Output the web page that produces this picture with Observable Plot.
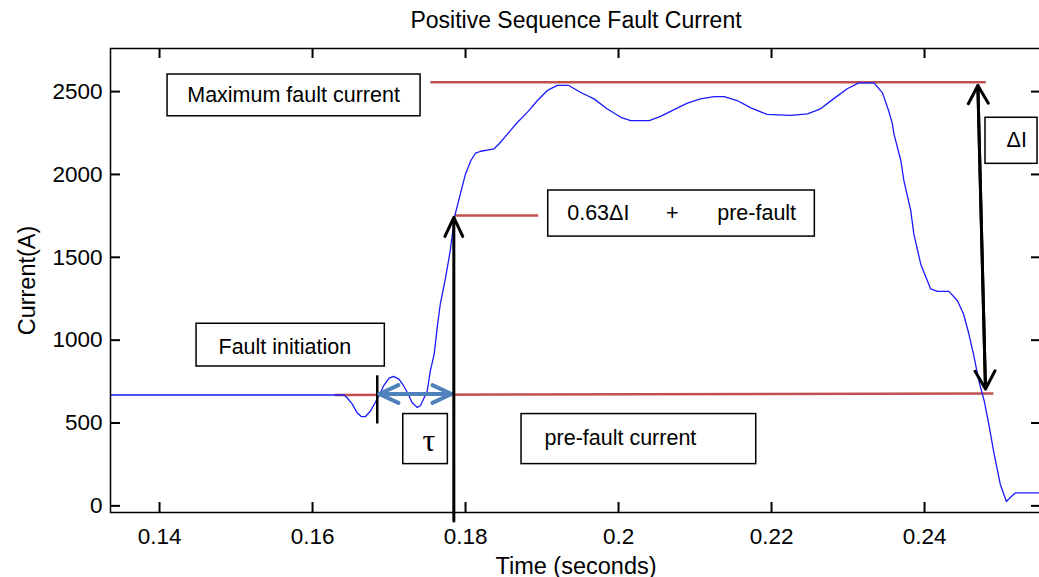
<!DOCTYPE html>
<html>
<head>
<meta charset="utf-8">
<script src="https://cdn.jsdelivr.net/npm/d3@7"></script>
<script src="https://cdn.jsdelivr.net/npm/@observablehq/plot@0.6"></script>
<style>
  html, body { margin: 0; padding: 0; overflow: hidden; background: #fff; }
  svg { display: block; max-width: none !important; }
</style>
</head>
<body>
<div id="chart"></div>
<script>
// ---- Data ----
const time = [0.1336, 0.1641, 0.1645, 0.1652, 0.1658, 0.1664, 0.1669, 0.1676, 0.1682, 0.1688, 0.1693,
  0.1700, 0.1706, 0.1713, 0.1719, 0.1725, 0.1730, 0.1737, 0.1741, 0.1745, 0.1750, 0.1754, 0.1759,
  0.1763, 0.1767, 0.1774, 0.1780, 0.1786, 0.1791, 0.1796, 0.1800, 0.1807, 0.1813, 0.1820, 0.1830,
  0.1837, 0.1844, 0.1855, 0.1868, 0.1881, 0.1894, 0.1907, 0.1920, 0.1935, 0.1950, 0.1968, 0.1985,
  0.2003, 0.2016, 0.2040, 0.2055, 0.2072, 0.2090, 0.2107, 0.2125, 0.2138, 0.2155, 0.2173, 0.2194,
  0.2225, 0.2247, 0.2264, 0.2281, 0.2299, 0.2314, 0.2334, 0.2345, 0.2353, 0.2358, 0.2360, 0.2369,
  0.2373, 0.2382, 0.2386, 0.2395, 0.2408, 0.2417, 0.2432, 0.2443, 0.2451, 0.2458, 0.2464, 0.2471,
  0.2478, 0.2484, 0.2491, 0.2499, 0.2507, 0.2512, 0.2519, 0.2550];
const current = [669, 669, 654, 614, 564, 538, 538, 574, 624, 675, 725,
  771, 781, 765, 725, 675, 624, 594, 604, 644, 695, 815, 916,
  1077, 1218, 1379, 1540, 1752, 1842, 1933, 2003, 2084, 2128, 2140, 2148,
  2154, 2185, 2245, 2315, 2376, 2446, 2507, 2537, 2537, 2496, 2456, 2396,
  2345, 2325, 2325, 2350, 2390, 2430, 2456, 2470, 2470, 2446, 2402, 2362,
  2356, 2366, 2396, 2456, 2517, 2553, 2553, 2492, 2386, 2305, 2245, 2084,
  1963, 1782, 1641, 1460, 1309, 1294, 1294, 1238, 1158, 1037, 916, 755,
  634, 493, 312, 131, 26, 50, 79, 79];

const xTicks = [0.14, 0.16, 0.18, 0.2, 0.22, 0.24];
const xTickLabels = ["0.14", "0.16", "0.18", "0.2", "0.22", "0.24"];
const yTicks = [0, 500, 1000, 1500, 2000, 2500];
const yTickLabels = ["0", "500", "1000", "1500", "2000", "2500"];

const titleText = "Positive Sequence Fault Current";
const xLabel = "Time (seconds)";
const yLabel = "Current(A)";

// annotation geometry (data units)
const redX1 = [0.1754, 0.1786, 0.1629];
const redY1 = [2557, 1752, 669];
const redX2 = [0.2480, 0.1895, 0.2490];
const redY2 = [2557, 1752, 678];

const boxX1 = [0.14105, 0.19081, 0.24797, 0.14484, 0.17186, 0.18732];
const boxX2 = [0.17412, 0.22566, 0.25477, 0.16945, 0.17769, 0.21800];
const boxY1 = [2351, 1625, 2064, 841, 252, 252];
const boxY2 = [2603, 1903, 2342, 1099, 554, 554];

const labelText = ["Maximum fault current", "0.63\u0394I", "+", "pre-fault", "\u0394I", "Fault initiation", "pre-fault current"];
const labelX = [0.14362, 0.19329, 0.20702, 0.2129, 0.25072, 0.14771, 0.19033];
const labelY = [2476, 1764, 1764, 1764, 2205, 960, 411];
const labelAnchor = ["start", "start", "middle", "start", "start", "start", "start"];

const tauText = ["\u03C4"];
const tauX = [0.17520];
const tauY = [393];

// arrows
const upArrowX = [0.17847], upArrowY1 = [-91], upArrowY2 = [1741];
const deltaTopX = 0.24697, deltaTopY = 2537, deltaBotX = 0.24797, deltaBotY = 705;
const tauLeftX = 0.16873, tauRightX = 0.17817, tauArrowY = 675;
const initX = [0.16846], initY1 = [494], initY2 = [785];

// ---- build tables ----
const curve = time.map((t, i) => ({t, I: current[i]}));
const redLines = redX1.map((x, i) => ({x1: x, y1: redY1[i], x2: redX2[i], y2: redY2[i]}));
const boxes = boxX1.map((x, i) => ({x1: x, x2: boxX2[i], y1: boxY1[i], y2: boxY2[i]}));
const labels = labelText.map((s, i) => ({s, x: labelX[i], y: labelY[i], a: labelAnchor[i]}));
const blueArrows = [
  {x1: tauRightX, y1: tauArrowY, x2: tauLeftX, y2: tauArrowY},
  {x1: tauLeftX, y1: tauArrowY, x2: tauRightX, y2: tauArrowY}
];
const deltaArrows = [
  {x1: deltaBotX, y1: deltaBotY, x2: deltaTopX, y2: deltaTopY},
  {x1: deltaTopX, y1: deltaTopY, x2: deltaBotX, y2: deltaBotY}
];
const upArrow = upArrowX.map((x, i) => ({x1: x, y1: upArrowY1[i], x2: x, y2: upArrowY2[i]}));
const initLine = initX.map((x, i) => ({x, y1: initY1[i], y2: initY2[i]}));

const font = "'Liberation Sans', Arial, Helvetica, sans-serif";

// layout
const W = 1042, H = 577, ML = 110, MR = 1, MT = 48, MB = 65, TICK = 10;
const frameW = W - ML - MR, frameH = H - MT - MB;

const chart = Plot.plot({
  width: W,
  height: H,
  marginLeft: ML,
  marginRight: MR,
  marginTop: MT,
  marginBottom: MB,
  style: {fontFamily: font, fontSize: "22px", color: "#000", background: "#fff", overflow: "visible", maxWidth: "none"},
  x: {domain: [0.13359, 0.25529], label: null},
  y: {domain: [-40, 2760], label: null},
  marks: [
    // red reference lines
    Plot.link(redLines, {x1: "x1", y1: "y1", x2: "x2", y2: "y2", stroke: "#c0504d", strokeWidth: 2.5}),
    // current trace
    Plot.line(curve, {x: "t", y: "I", stroke: "#1a1aff", strokeWidth: 1.3}),
    // fault initiation marker
    Plot.ruleX(initLine, {x: "x", y1: "y1", y2: "y2", stroke: "#000", strokeWidth: 2.5}),
    // tau double arrow
    Plot.arrow(blueArrows, {x1: "x1", y1: "y1", x2: "x2", y2: "y2", stroke: "#4f81bd", strokeWidth: 4, headAngle: 50, headLength: 7.9}),
    // up arrow to 0.63 point
    Plot.arrow(upArrow, {x1: "x1", y1: "y1", x2: "x2", y2: "y2", stroke: "#000", strokeWidth: 3, headAngle: 50, headLength: 10.5}),
    // delta I double arrow
    Plot.arrow(deltaArrows, {x1: "x1", y1: "y1", x2: "x2", y2: "y2", stroke: "#000", strokeWidth: 3, headAngle: 58, headLength: 10.3}),
    // text boxes
    Plot.rect(boxes, {x1: "x1", x2: "x2", y1: "y1", y2: "y2", fill: "#fff", stroke: "#000", strokeWidth: 1.5}),
    Plot.text(labels, {x: "x", y: "y", text: "s", textAnchor: "start", lineAnchor: "middle", fontSize: 21.5, fill: "#000",
      filter: d => d.a === "start"}),
    Plot.text(labels, {x: "x", y: "y", text: "s", textAnchor: "middle", lineAnchor: "middle", fontSize: 21.5, fill: "#000",
      filter: d => d.a === "middle"}),
    Plot.text(tauText, {x: () => tauX[0], y: () => tauY[0], text: d => d, fontFamily: "'Liberation Serif', 'Times New Roman', serif", fontSize: 32, lineAnchor: "middle", fill: "#000"}),
    // frame
    Plot.frame({stroke: "#000", strokeWidth: 1.5}),
    // inward tick marks (bottom, top, left, right)
    Plot.ruleX(xTicks, {x: d => d, insetTop: frameH - TICK, stroke: "#000", strokeWidth: 2}),
    Plot.ruleX(xTicks, {x: d => d, insetBottom: frameH - TICK, stroke: "#000", strokeWidth: 2}),
    Plot.ruleY(yTicks, {y: d => d, insetRight: frameW - TICK, stroke: "#000", strokeWidth: 2}),
    Plot.ruleY(yTicks, {y: d => d, insetLeft: frameW - TICK, stroke: "#000", strokeWidth: 2}),
    // tick labels
    Plot.axisX(xTicks, {anchor: "bottom", tickSize: 0, tickPadding: 16, tickFormat: d => xTickLabels[xTicks.indexOf(d)], label: null, fontSize: 22.5}),
    Plot.axisY(yTicks, {anchor: "left", tickSize: 0, tickPadding: 8, tickFormat: d => yTickLabels[yTicks.indexOf(d)], label: null, fontSize: 22.5}),
    // titles
    Plot.text([titleText], {frameAnchor: "top", dy: -28, lineAnchor: "middle", textAnchor: "middle", fontSize: 23, fill: "#000"}),
    Plot.text([xLabel], {frameAnchor: "bottom", dy: 54, lineAnchor: "middle", textAnchor: "middle", fontSize: 23.5, fill: "#000"}),
    Plot.text([yLabel], {frameAnchor: "left", dx: -83, rotate: -90, lineAnchor: "middle", textAnchor: "middle", fontSize: 23.5, fill: "#000"})
  ]
});
document.getElementById("chart").appendChild(chart);
</script>
</body>
</html>
